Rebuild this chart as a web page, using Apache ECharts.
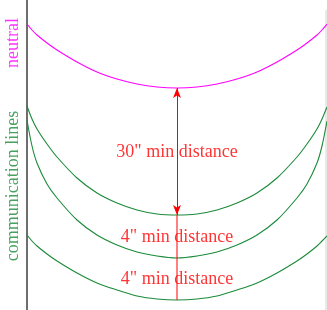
<!DOCTYPE html>
<html>
<head>
<meta charset="utf-8">
<script src="https://cdn.jsdelivr.net/npm/echarts@6/dist/echarts.min.js"></script>
<style>
  html, body { margin: 0; padding: 0; background: #fff; }
  #chart { width: 327px; height: 310px; }
</style>
</head>
<body>
<div id="chart"></div>
<script>
// x positions along the span (pixel-like units), shared by all wires
const spanX = [27, 32, 37, 47, 57, 77, 97, 117, 137, 157, 177, 197, 217, 237, 257, 277, 297, 307, 317, 322, 327];
// sag of each wire (y grows downwards)
const neutralY = [24, 30, 35, 43, 50, 62, 72, 79, 84, 87, 88, 87, 84, 79, 72, 62, 50, 43, 35, 30, 24];
const comm1Y   = [106, 119, 129, 144, 157, 178, 193, 203, 210, 214, 215, 214, 210, 203, 193, 178, 157, 144, 129, 119, 107];
const comm2Y   = [120, 146, 163, 184, 198, 220, 235, 245, 252, 256, 258, 256, 252, 245, 235, 220, 198, 184, 163, 146, 121];
const comm3Y   = [235, 241, 246, 254, 261, 273, 283, 290, 296, 299, 300, 299, 296, 290, 283, 273, 261, 254, 246, 241, 236];

// poles and the measuring line
const leftPole  = [[27, 0], [27, 310]];
const rightPole = [[326, 10], [326, 310]];
const arrowTop = [177, 88];
const arrowBottom = [177, 215];
const lowerRule = [[177, 215], [177, 300]];

// labels
const distanceText = ['30" min distance', '4" min distance', '4" min distance'];
const distancePos  = [[177, 152], [177, 237], [177, 279]];
const sideText = ['neutral', 'communication lines'];
const sidePos  = [[13, 43], [13, 186]];

const MAGENTA = '#ff00ff';
const GREEN = '#1b8a3a';
const RED = '#ff0000';
const FONT = '"Liberation Serif", "DejaVu Serif", serif';

function wire(ys, color) {
  return {
    type: 'line',
    data: spanX.map((x, i) => [x, ys[i]]),
    smooth: 0.3,
    showSymbol: false,
    lineStyle: { color: color, width: 1.1 }
  }
}

const chart = echarts.init(document.getElementById('chart'));
chart.setOption({
  animation: false,
  grid: { left: 0, right: 0, top: 0, bottom: 0 },
  xAxis: { type: 'value', min: 0, max: 327, show: false },
  yAxis: { type: 'value', min: 0, max: 310, inverse: true, show: false },
  series: [
    { type: 'line', data: leftPole, showSymbol: false, lineStyle: { color: '#6e6e6e', width: 2 } },
    { type: 'line', data: rightPole, showSymbol: false, lineStyle: { color: '#d4d4d4', width: 1 } },
    wire(neutralY, MAGENTA),
    wire(comm1Y, GREEN),
    wire(comm2Y, GREEN),
    wire(comm3Y, GREEN),
    {
      type: 'line',
      data: lowerRule,
      showSymbol: false,
      lineStyle: { color: RED, width: 1 },
      markLine: {
        silent: true,
        label: { show: false },
        lineStyle: { color: RED, width: 1, type: 'solid' },
        data: [[
          { coord: arrowTop, symbol: 'arrow', symbolSize: [6, 10] },
          { coord: arrowBottom, symbol: 'arrow', symbolSize: [6, 10] }
        ]]
      }
    },
    {
      type: 'scatter',
      clip: false,
      symbolSize: 0,
      data: distancePos.map((p, i) => ({
        value: p,
        name: distanceText[i],
        label: i === 0 ? { backgroundColor: '#fff', padding: [0, 2] } : {}
      })),
      label: {
        show: true,
        position: 'inside',
        formatter: p => p.name,
        color: RED,
        fontFamily: FONT,
        fontSize: 18
      }
    },
    {
      type: 'scatter',
      clip: false,
      symbolSize: 0,
      data: sidePos.map((p, i) => ({
        value: p,
        name: sideText[i],
        label: { color: i === 0 ? MAGENTA : GREEN }
      })),
      label: {
        show: true,
        position: 'inside',
        rotate: 90,
        formatter: p => p.name,
        fontFamily: FONT,
        fontSize: 18
      }
    }
  ]
});
</script>
</body>
</html>
